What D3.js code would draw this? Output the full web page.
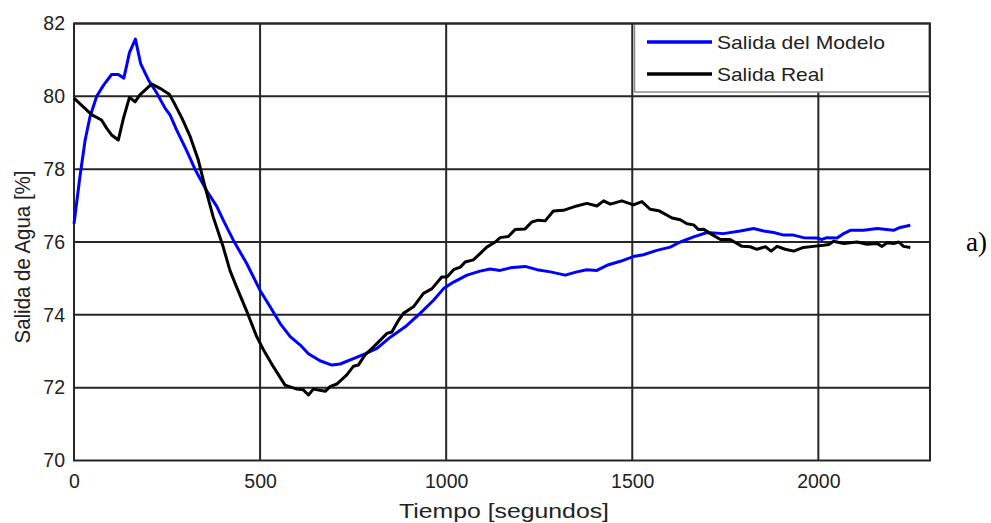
<!DOCTYPE html>
<html>
<head>
<meta charset="utf-8">
<script src="https://cdn.jsdelivr.net/npm/d3@7"></script>
<style>
  html, body { margin: 0; padding: 0; background: #fff; }
  svg { display: block; font-family: "Liberation Sans", Arial, sans-serif; }
</style>
</head>
<body>
<svg id="chart" width="991" height="523"></svg>
<script>
// Model output (blue) — time in seconds, water output in %
const timeModel = [0, 16, 30, 43, 61, 79, 101, 119, 134, 149, 165, 179, 200, 222, 245, 258, 276, 303, 325, 357, 384, 401, 428, 464, 500, 527, 554, 581, 608, 630, 661, 693, 715, 751, 782, 814, 849, 890, 930, 966, 993, 1020, 1056, 1091, 1118, 1145, 1172, 1212, 1244, 1280, 1320, 1351, 1378, 1405, 1432, 1468, 1503, 1530, 1566, 1602, 1629, 1665, 1701, 1745, 1790, 1826, 1853, 1880, 1907, 1933, 1960, 1996, 2010, 2023, 2050, 2068, 2086, 2122, 2158, 2202, 2220, 2247];
const modelOutput = [76.5, 77.8, 78.8, 79.44, 80.0, 80.3, 80.6, 80.6, 80.5, 81.2, 81.57, 80.9, 80.45, 80.1, 79.67, 79.49, 79.07, 78.5, 78.0, 77.4, 76.97, 76.6, 76.05, 75.41, 74.67, 74.22, 73.76, 73.4, 73.17, 72.93, 72.74, 72.62, 72.65, 72.8, 72.93, 73.08, 73.38, 73.67, 74.04, 74.4, 74.72, 74.9, 75.09, 75.2, 75.26, 75.22, 75.29, 75.33, 75.24, 75.18, 75.09, 75.18, 75.24, 75.22, 75.36, 75.47, 75.6, 75.65, 75.77, 75.86, 76.0, 76.14, 76.26, 76.23, 76.3, 76.37, 76.3, 76.26, 76.19, 76.19, 76.12, 76.11, 76.07, 76.12, 76.11, 76.23, 76.32, 76.32, 76.37, 76.32, 76.4, 76.46];

// Measured output (black)
const timeReal = [0, 25, 48, 74, 88, 101, 119, 133, 149, 164, 177, 209, 231, 256, 272, 290, 312, 334, 352, 374, 401, 419, 437, 464, 491, 509, 536, 567, 599, 616, 630, 643, 675, 688, 706, 733, 751, 764, 782, 805, 841, 854, 872, 885, 912, 939, 962, 988, 1002, 1020, 1038, 1051, 1073, 1091, 1109, 1132, 1145, 1167, 1185, 1212, 1230, 1248, 1266, 1288, 1315, 1351, 1378, 1405, 1423, 1441, 1472, 1503, 1526, 1548, 1571, 1607, 1629, 1647, 1665, 1678, 1692, 1710, 1737, 1763, 1795, 1817, 1835, 1858, 1873, 1889, 1911, 1934, 1960, 1987, 2014, 2028, 2041, 2068, 2104, 2131, 2158, 2171, 2185, 2202, 2216, 2229, 2247];
const realOutput = [79.95, 79.71, 79.49, 79.35, 79.12, 78.94, 78.8, 79.4, 79.97, 79.85, 80.04, 80.34, 80.22, 80.06, 79.76, 79.4, 78.9, 78.25, 77.52, 76.69, 75.86, 75.22, 74.76, 74.1, 73.4, 73.04, 72.57, 72.07, 71.96, 71.94, 71.8, 71.96, 71.9, 72.03, 72.1, 72.35, 72.59, 72.62, 72.9, 73.12, 73.49, 73.53, 73.85, 74.04, 74.22, 74.59, 74.72, 75.04, 75.04, 75.24, 75.31, 75.45, 75.51, 75.68, 75.86, 76.0, 76.12, 76.15, 76.34, 76.36, 76.55, 76.6, 76.58, 76.85, 76.87, 76.99, 77.06, 76.99, 77.13, 77.04, 77.13, 77.02, 77.11, 76.9, 76.86, 76.66, 76.61, 76.5, 76.47, 76.34, 76.35, 76.23, 76.07, 76.07, 75.88, 75.87, 75.8, 75.87, 75.75, 75.88, 75.8, 75.75, 75.85, 75.88, 75.91, 75.93, 76.02, 75.96, 76.0, 75.94, 75.96, 75.88, 75.98, 75.96, 76.0, 75.88, 75.85];

const xTicks = [0, 500, 1000, 1500, 2000];
const yTicks = [70, 72, 74, 76, 78, 80, 82];
const seriesNames = ["Salida del Modelo", "Salida Real"];
const seriesColors = ["#0000ff", "#000000"];

const svg = d3.select("#chart");
const plotLeft = 74, plotRight = 930, plotTop = 23.5, plotBottom = 460.5;
const gridColor = "#262626";

const x = d3.scaleLinear().domain([0, 2300]).range([plotLeft, plotRight]);
const y = d3.scaleLinear().domain([70, 82]).range([plotBottom, plotTop]);

// grid
const grid = svg.append("g");
grid.selectAll("line.gx").data(xTicks.slice(1)).join("line")
  .attr("class", "gx")
  .attr("x1", d => x(d)).attr("x2", d => x(d))
  .attr("y1", plotTop).attr("y2", plotBottom)
  .attr("stroke", gridColor).attr("stroke-width", 2);
grid.selectAll("line.gy").data(yTicks.slice(1, -1)).join("line")
  .attr("class", "gy")
  .attr("x1", plotLeft).attr("x2", plotRight)
  .attr("y1", d => y(d)).attr("y2", d => y(d))
  .attr("stroke", gridColor).attr("stroke-width", 2);

// frame
svg.append("rect")
  .attr("x", plotLeft).attr("y", plotTop)
  .attr("width", plotRight - plotLeft).attr("height", plotBottom - plotTop)
  .attr("fill", "none").attr("stroke", gridColor).attr("stroke-width", 2);

// tick labels
const xAxis = d3.axisBottom(x).tickValues(xTicks).tickSize(0).tickPadding(14).tickFormat(d3.format("d"));
const gx = svg.append("g").attr("transform", `translate(0,${plotBottom})`).call(xAxis);
gx.select(".domain").remove();
gx.selectAll("text").attr("font-size", 19.5).attr("fill", "#222").attr("font-family", "Liberation Sans, Arial, sans-serif");

const yAxis = d3.axisLeft(y).tickValues(yTicks).tickSize(0).tickPadding(9).tickFormat(d3.format("d"));
const gy = svg.append("g").attr("transform", `translate(${plotLeft},0)`).call(yAxis);
gy.select(".domain").remove();
gy.selectAll("text").attr("font-size", 19.5).attr("fill", "#222").attr("font-family", "Liberation Sans, Arial, sans-serif");

// axis titles
svg.append("text")
  .attr("x", 504).attr("y", 518)
  .attr("text-anchor", "middle")
  .attr("font-size", 21).attr("fill", "#222")
  .attr("textLength", 210).attr("lengthAdjust", "spacingAndGlyphs")
  .text("Tiempo [segundos]");

svg.append("text")
  .attr("transform", "translate(30,257) rotate(-90)")
  .attr("text-anchor", "middle")
  .attr("font-size", 21.5).attr("fill", "#222")
  .attr("textLength", 173).attr("lengthAdjust", "spacingAndGlyphs")
  .text("Salida de Agua [%]");

// series
const line = d3.line().x(d => x(d[0])).y(d => y(d[1]));
const modelPts = timeModel.map((t, i) => [t, modelOutput[i]]);
const realPts = timeReal.map((t, i) => [t, realOutput[i]]);

svg.append("path").datum(modelPts)
  .attr("d", line).attr("fill", "none")
  .attr("stroke", seriesColors[0]).attr("stroke-width", 3).attr("stroke-linejoin", "round");
svg.append("path").datum(realPts)
  .attr("d", line).attr("fill", "none")
  .attr("stroke", seriesColors[1]).attr("stroke-width", 3).attr("stroke-linejoin", "round");

// legend
const lg = svg.append("g");
lg.append("rect")
  .attr("x", 634.5).attr("y", plotTop + 0.5)
  .attr("width", plotRight - 635.5).attr("height", 68)
  .attr("fill", "#fff").attr("stroke", "#8a8a8a").attr("stroke-width", 1.5);
seriesNames.forEach((name, i) => {
  const ly = 42 + i * 32;
  lg.append("line")
    .attr("x1", 647).attr("x2", 712).attr("y1", ly).attr("y2", ly)
    .attr("stroke", seriesColors[i]).attr("stroke-width", 3.5);
  lg.append("text")
    .attr("x", 717).attr("y", ly + 7)
    .attr("font-size", 19).attr("fill", "#222")
    .attr("textLength", i === 0 ? 168 : 107).attr("lengthAdjust", "spacingAndGlyphs")
    .text(name);
});
// frame edges over the legend box
svg.append("line").attr("x1", plotLeft).attr("x2", plotRight).attr("y1", plotTop).attr("y2", plotTop)
  .attr("stroke", gridColor).attr("stroke-width", 2);
svg.append("line").attr("x1", plotRight).attr("x2", plotRight).attr("y1", plotTop).attr("y2", plotBottom)
  .attr("stroke", gridColor).attr("stroke-width", 2);

// panel tag
svg.append("text")
  .attr("x", 966).attr("y", 251)
  .attr("font-family", "Liberation Serif, Times New Roman, serif")
  .attr("font-size", 27).attr("fill", "#000")
  .text("a)");
</script>
</body>
</html>
